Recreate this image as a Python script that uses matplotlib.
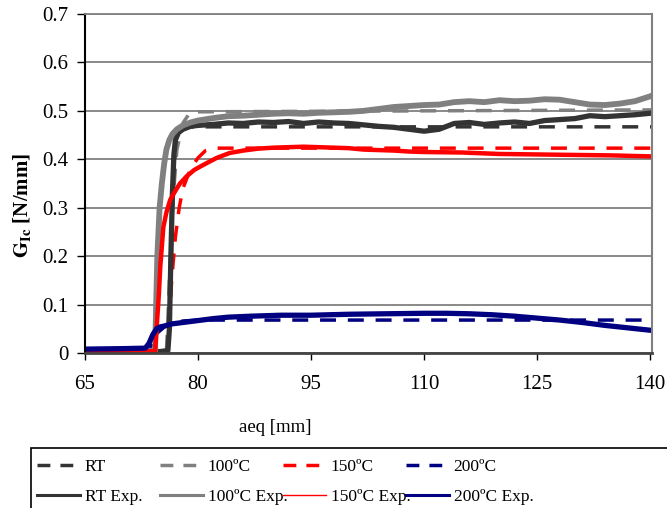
import matplotlib
matplotlib.use("Agg")
import matplotlib.pyplot as plt
from matplotlib.lines import Line2D
from matplotlib.patches import Rectangle

plt.rcParams['font.family'] = ['Liberation Serif', 'DejaVu Serif']
plt.rcParams['mathtext.fontset'] = 'stix'

# model curves (dashed)
rt_x = [65, 76.0, 76.3, 76.6, 77.0, 77.5, 78.0, 140.5]
rt_y = [0, 0, 0.15, 0.30, 0.42, 0.455, 0.467, 0.467]
t100_x = [65, 75.8, 76.2, 76.7, 77.2, 78.0, 79.0, 140.5]
t100_y = [0, 0, 0.15, 0.32, 0.42, 0.475, 0.498, 0.502]
t150_x = [65, 76.0, 76.5, 77.0, 77.5, 78.0, 79.0, 80.0, 81.0, 82.0, 140.5]
t150_y = [0, 0, 0.15, 0.24, 0.30, 0.34, 0.38, 0.403, 0.418, 0.423, 0.423]
t200_x = [65, 73.5, 74.5, 76.0, 78.0, 80.0, 140.5]
t200_y = [0, 0.005, 0.04, 0.06, 0.066, 0.068, 0.068]

# experimental curves
rt_exp_x = [65, 70, 75, 76.0, 76.2, 76.4, 76.6, 76.8, 77.0, 77.4, 78, 79, 80, 82, 84, 86, 88, 90,
            92, 94, 96, 98, 100, 102, 104, 106, 108, 110, 112, 114, 116, 118, 120, 122, 124, 126,
            128, 130, 132, 134, 136, 138, 140, 141]
rt_exp_y = [0.002, 0.002, 0.003, 0.005, 0.05, 0.20, 0.33, 0.41, 0.44, 0.455, 0.462, 0.468, 0.470,
            0.472, 0.475, 0.474, 0.477, 0.476, 0.478, 0.474, 0.477, 0.475, 0.474, 0.471, 0.468,
            0.466, 0.462, 0.458, 0.462, 0.474, 0.476, 0.472, 0.475, 0.477, 0.474, 0.480, 0.482,
            0.484, 0.490, 0.488, 0.490, 0.492, 0.495, 0.498]
t100_exp_x = [65, 70, 74.3, 74.6, 74.9, 75.2, 75.5, 75.8, 76.2, 76.6, 77.2, 78, 79, 80, 82, 84, 86,
              88, 90, 92, 94, 96, 98, 100, 102, 104, 106, 108, 110, 112, 114, 116, 118, 120, 122,
              124, 126, 128, 130, 132, 134, 136, 138, 140, 141]
t100_exp_y = [0.003, 0.003, 0.005, 0.20, 0.30, 0.35, 0.39, 0.42, 0.44, 0.452, 0.462, 0.470, 0.476,
              0.480, 0.485, 0.489, 0.490, 0.492, 0.494, 0.495, 0.494, 0.496, 0.497, 0.498, 0.500,
              0.504, 0.508, 0.510, 0.512, 0.513, 0.518, 0.520, 0.518, 0.522, 0.520, 0.521, 0.524,
              0.523, 0.518, 0.513, 0.512, 0.515, 0.520, 0.530, 0.536]
t150_exp_x = [65, 70, 74.3, 74.5, 74.8, 75.0, 75.2, 75.4, 75.8, 76.3, 77.0, 77.6, 78.5, 79.5, 80.3,
              81.5, 82.5, 84.2, 86, 88, 90, 92, 94, 96, 98, 100, 102, 104, 106, 108, 110, 115, 120,
              125, 130, 135, 140, 141]
t150_exp_y = [0.002, 0.002, 0.004, 0.05, 0.12, 0.18, 0.22, 0.26, 0.29, 0.316, 0.335, 0.350, 0.365,
              0.378, 0.385, 0.395, 0.403, 0.413, 0.418, 0.422, 0.424, 0.425, 0.426, 0.425, 0.424,
              0.423, 0.420, 0.419, 0.418, 0.416, 0.415, 0.414, 0.411, 0.410, 0.409, 0.408, 0.406,
              0.405]
t200_exp_x = [65, 70, 73.0, 73.5, 74.0, 74.5, 75.0, 75.6, 76.5, 78, 80, 82, 84, 87, 91, 95, 100,
              105, 110, 113, 116, 119, 122, 125, 128, 131, 134, 137, 140, 141]
t200_exp_y = [0.008, 0.009, 0.010, 0.020, 0.038, 0.050, 0.054, 0.056, 0.060, 0.063, 0.067, 0.071,
              0.074, 0.076, 0.078, 0.078, 0.080, 0.081, 0.082, 0.082, 0.081, 0.079, 0.076, 0.072,
              0.068, 0.063, 0.057, 0.052, 0.047, 0.046]

c_rt = '#333333'
c_100 = '#808080'
c_150 = '#ff0000'
c_200 = '#000080'
dash = (4.6, 3.4)

fig = plt.figure(figsize=(6.67, 5.08), dpi=100)
ax = fig.add_axes([85 / 667, 1 - 353 / 508, 567 / 667, 339 / 508])

ax.plot(rt_x, rt_y, color=c_rt, lw=2.5, dashes=dash)
ax.plot(t100_x, t100_y, color=c_100, lw=2.5, dashes=dash)
ax.plot(t150_x, t150_y, color=c_150, lw=2.5, dashes=dash)
ax.plot(t200_x, t200_y, color=c_200, lw=2.5, dashes=dash)

ax.plot(rt_exp_x, rt_exp_y, color=c_rt, lw=3.8)
ax.plot(t100_exp_x, t100_exp_y, color=c_100, lw=4.2)
ax.plot(t150_exp_x, t150_exp_y, color=c_150, lw=3.2)
ax.plot(t200_exp_x, t200_exp_y, color=c_200, lw=3.8)

ax.set_xlim(65, 140.25)
ax.set_ylim(0, 0.7)
ax.set_xticks([65, 80, 95, 110, 125, 140])
ax.set_yticks([0, 0.1, 0.2, 0.3, 0.4, 0.5, 0.6, 0.7])
ax.set_yticklabels(['0', '0.1', '0.2', '0.3', '0.4', '0.5', '0.6', '0.7'])
ax.tick_params(axis='x', direction='out', length=5, width=1, pad=11, labelsize=15, colors='black')
ax.tick_params(axis='y', direction='out', length=6, width=1, pad=6, labelsize=15, colors='black')
ax.yaxis.grid(True, color='#808080', lw=1.3)
ax.set_axisbelow(True)
ax.spines['left'].set_color('black')
ax.spines['left'].set_linewidth(1.5)
ax.spines['bottom'].set_color('#444444')
ax.spines['bottom'].set_linewidth(2)
ax.spines['right'].set_color('#808080')
ax.spines['right'].set_linewidth(1.5)
ax.spines['top'].set_color('#808080')
ax.spines['top'].set_linewidth(1.3)

fig.text(275 / 667, 1 - 427 / 508, 'aeq [mm]', ha='center', va='center', fontsize=13.5)
fig.text(22 / 667, 1 - 205 / 508, r'$\mathbf{G_{Ic}}$ [N/mm]', ha='center', va='center',
         rotation=90, fontsize=15, fontweight='bold')

# legend frame running off the figure
fig.patches.append(Rectangle((31 / 667, -0.05), 0.98, 0.05 + 1 - 448 / 508,
                             transform=fig.transFigure, fill=False, edgecolor='black', lw=1.2))

labels = [('RT', 'RT Exp.', c_rt, 2.2), ('100ºC', '100ºC Exp.', c_100, 2.2),
          ('150ºC', '150ºC Exp.', c_150, 1.0), ('200ºC', '200ºC Exp.', c_200, 2.2)]
for i, (lab, lab_exp, col, lw_exp) in enumerate(labels):
    h1 = Line2D([], [], color=col, lw=2.5, dashes=(3.7, 2.9))
    h2 = Line2D([], [], color=col, lw=lw_exp)
    leg = fig.legend([h1, h2], [lab, lab_exp], loc='upper left',
                     bbox_to_anchor=((37 + 123 * i) / 667, 1 - 459 / 508),
                     frameon=False, fontsize=12.5, handlelength=2.45, handletextpad=0.3,
                     labelspacing=0.78, borderpad=0, borderaxespad=0)

fig.savefig('out.png', dpi=100)
